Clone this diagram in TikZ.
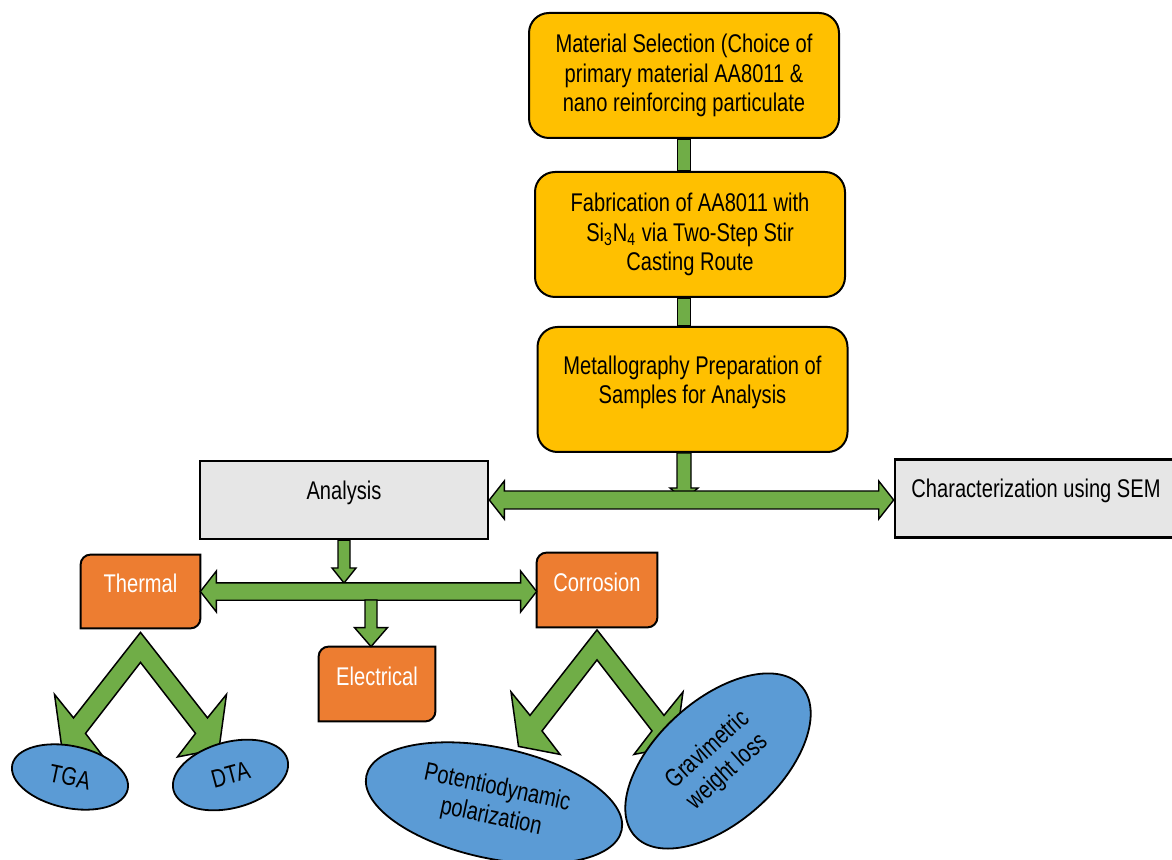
\documentclass[tikz,border=0pt]{standalone}
\usepackage{fontspec}
\setmainfont{Liberation Sans}[FakeStretch=0.785]
\usetikzlibrary{calc,shapes.geometric,backgrounds}
\definecolor{boxyellow}{HTML}{FFC000}
\definecolor{boxorange}{HTML}{ED7D31}
\definecolor{boxblue}{HTML}{5B9BD5}
\definecolor{boxgray}{HTML}{E6E6E6}
\definecolor{arrowgreen}{HTML}{70AD47}
\definecolor{chevline}{HTML}{5B7FA8}

\tikzset{
	arrshaft/.store in=\arrshaft, arrhead/.store in=\arrhead, arrlen/.store in=\arrlen,
	arrshaft=3pt, arrhead=6pt, arrlen=7.5pt,
	greenarrow/.style={draw=black, line width=0.7pt, fill=arrowgreen,
		to path={let \p1=(\tikztostart), \p2=(\tikztotarget),
			\n1={veclen(\x2-\x1,\y2-\y1)}, \n2={atan2(\y2-\y1,\x2-\x1)} in
			{[shift={(\p1)},rotate=\n2]
			(0pt,-\arrshaft) -- ({\n1*1pt-\arrlen},-\arrshaft) -- ({\n1*1pt-\arrlen},-\arrhead)
			-- (\n1*1pt,0pt) -- ({\n1*1pt-\arrlen},\arrhead) -- ({\n1*1pt-\arrlen},\arrshaft)
			-- (0pt,\arrshaft) -- cycle}}},
	greendouble/.style={draw=black, line width=0.7pt, fill=arrowgreen,
		to path={let \p1=(\tikztostart), \p2=(\tikztotarget),
			\n1={veclen(\x2-\x1,\y2-\y1)}, \n2={atan2(\y2-\y1,\x2-\x1)} in
			{[shift={(\p1)},rotate=\n2]
			(0pt,0pt) -- (\arrlen,\arrhead) -- (\arrlen,\arrshaft) -- ({\n1*1pt-\arrlen},\arrshaft)
			-- ({\n1*1pt-\arrlen},\arrhead) -- (\n1*1pt,0pt) -- ({\n1*1pt-\arrlen},-\arrhead)
			-- ({\n1*1pt-\arrlen},-\arrshaft) -- (\arrlen,-\arrshaft) -- (\arrlen,-\arrhead) -- cycle}}},
	chevron/.pic={
		\path[fill=arrowgreen, draw=black, line width=0.75pt, pic actions]
		(0,0) -- (67,85.5) -- (86,62) -- (78.5,116.5) -- (37,124.5) -- (55,101) -- (0,30)
		-- (-55,101) -- (-37,124.5) -- (-78.5,116.5) -- (-86,62) -- (-67,85.5) -- cycle;
	}
}

\begin{document}
\begin{tikzpicture}
	[x=0.5pt,y=-0.5pt,
	every node/.style={font=\fontsize{12.8pt}{14.75pt}\selectfont, inner sep=2pt},
	stepbox/.style={rectangle, rounded corners=10pt, fill=boxyellow, draw=black, line width=1pt,
		minimum width=155pt, minimum height=62.5pt, align=center},
	testbox/.style={rectangle, fill=boxgray, draw=black, line width=1.3pt,
		minimum width=144pt, minimum height=39pt, text height=9.2pt, text depth=10pt},
	typebox/.style={rectangle, text=white, minimum width=59.5pt, minimum height=36.5pt,
		text height=9.2pt, text depth=8pt},
	typeshape/.style={fill=boxorange, draw=black, line width=1pt},
	methodell/.style={ellipse, fill=boxblue, draw=black, line width=0.9pt, inner sep=0pt, align=center}]
	\useasboundingbox (0,0) rectangle (1172,860);
	
	% process steps
	\node[stepbox] (ms) at (684,75.5) {Material Selection (Choice of\\primary material AA8011 \&\\nano reinforcing particulate};
	\node[stepbox] (fab) at (690,234.5) {Fabrication of AA8011 with\\Si\textsubscript{3}N\textsubscript{4} via Two-Step Stir\\Casting Route};
	\node[stepbox] (met) at (692.5,389.5) {Metallography Preparation of\\Samples for Analysis\rule[-10pt]{0pt}{0pt}};
	\node[testbox] (ana) at (344,500) {Analysis};
	\node[testbox, minimum width=141pt] (sem) at (1036,498.5) {Characterization using SEM};
	\node[typebox] (thermal) at (140.5,591.5) {Thermal};
	\node[typebox, minimum width=58pt, minimum height=37pt] (elec) at (377,684) {Electrical};
	\node[typebox, minimum width=60pt, minimum height=37pt] (corr) at (597,590) {Corrosion};
	
	\begin{scope}[on background layer]
		\foreach \b in {thermal,elec,corr}
		\draw[typeshape] (\b.west) {[rounded corners=5pt] -- (\b.north west) -- (\b.north)}
		-- (\b.north east) -- (\b.east) {[rounded corners=5pt] -- (\b.south east) -- (\b.south)}
		-- (\b.south west) -- cycle;
	\end{scope}
	
	% green connectors
	\draw[greenarrow, arrshaft=3.25pt, arrhead=3.25pt, arrlen=0pt] (ms.south) to (ms.south |- fab.north);
	\draw[greenarrow, arrshaft=3.25pt, arrhead=3.25pt, arrlen=0pt] (ms.south |- fab.south) to (ms.south |- met.north);
	\coordinate (tee) at (ms.south |- ana.east);
	\draw[greenarrow, arrshaft=3.5pt, arrhead=7pt, arrlen=6pt] (ms.south |- met.south) to (tee);
	\draw[greendouble, arrshaft=4.5pt, arrhead=9.5pt, arrlen=7.5pt] (ana.east) to (ana.east -| sem.west);
	\draw[greenarrow, arrshaft=3pt, arrhead=6pt, arrlen=7.5pt] (ana.south) to ($(ana.south |- thermal.east)+(0,-8.5)$);
	\draw[greendouble, arrshaft=4.35pt, arrhead=10.25pt, arrlen=8pt] (thermal.east) to (thermal.east -| corr.west);
	\draw[greenarrow, arrshaft=3pt, arrhead=8.25pt, arrlen=9.5pt] ($(elec.north |- thermal.east)+(-6,8.5)$) to ($(elec.north)+(-6,0)$);
	\pic at ([yshift=-2pt]thermal.south) {chevron};
	\pic[draw=chevline, line width=0.5pt] at ([yshift=-1.25pt]corr.south) {chevron};
	
	% test methods
	\node[methodell, minimum width=59pt, minimum height=31pt, rotate=-12] (tga) at (70,777) {TGA};
	\node[methodell, minimum width=59pt, minimum height=33pt, rotate=15] (dta) at (230.5,775) {DTA};
	\node[methodell, minimum width=130.5pt, minimum height=55.5pt, rotate=-12] (pot) at (494,803) {Potentiodynamic\\polarization};
	\node[methodell, minimum width=112pt, minimum height=61pt, rotate=42] (grav) at (718,761) {Gravimetric\\weight loss};
\end{tikzpicture}
\end{document}
